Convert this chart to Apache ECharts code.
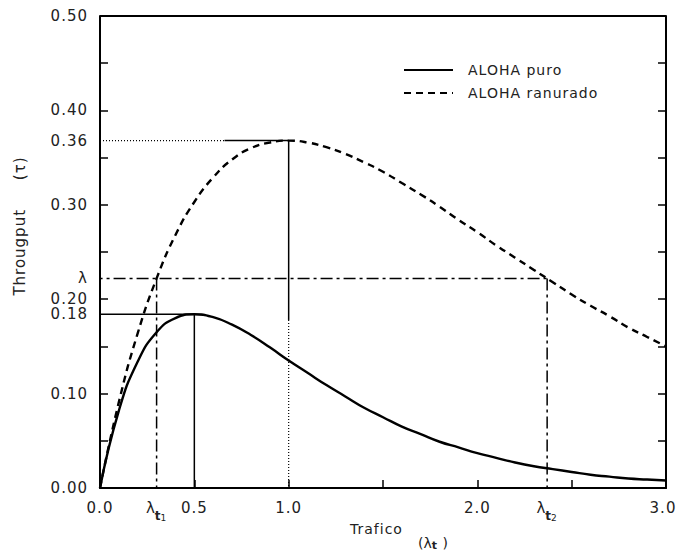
<!DOCTYPE html>
<html>
<head>
<meta charset="utf-8">
<script src="https://cdn.jsdelivr.net/npm/echarts@6/dist/echarts.min.js"></script>
<style>
  html, body { margin: 0; padding: 0; background: #fff; }
  #chart { width: 677px; height: 553px; }
  /* texto un poco espaciado como en la figura original */
  #chart text { letter-spacing: 1px; }
</style>
</head>
<body>
<div id="chart"></div>
<script>
// trafico (lambda_t) y throughput
const traffic = [0, 0.1, 0.2, 0.3, 0.4, 0.5, 0.6, 0.7, 0.8, 0.9, 1.0, 1.1, 1.2, 1.3, 1.4, 1.5,
  1.6, 1.7, 1.8, 1.9, 2.0, 2.1, 2.2, 2.3, 2.4, 2.5, 2.6, 2.7, 2.8, 2.9, 3.0];
const alohaPuro = [0, 0.082, 0.134, 0.165, 0.180, 0.184, 0.181, 0.173, 0.162, 0.149, 0.135, 0.122,
  0.109, 0.097, 0.085, 0.075, 0.065, 0.057, 0.049, 0.043, 0.037, 0.032, 0.027, 0.023, 0.020,
  0.017, 0.014, 0.012, 0.010, 0.009, 0.008];
const alohaRanurado = [0, 0.091, 0.164, 0.222, 0.268, 0.303, 0.329, 0.348, 0.360, 0.366, 0.368,
  0.366, 0.361, 0.354, 0.345, 0.335, 0.323, 0.311, 0.298, 0.284, 0.271, 0.257, 0.244, 0.231,
  0.218, 0.205, 0.193, 0.182, 0.170, 0.160, 0.150];

// maximos y nivel lambda
const peakPuro = [0.5, 0.184];
const peakRanurado = [1.0, 0.368];
const lambdaLevel = 0.222;
const lambdaT = [0.3, 2.37];
const dottedUntilX = 0.66;   // la horizontal de 0.36 es punteada hasta aqui
const solidDownToY = 0.178;  // la vertical en 1.0 es continua hasta aqui

// rango de los ejes y marcas
const xRange = [0, 3];
const yRange = [0, 0.5];
const xTickValues = [0, 0.5, 1, 1.5, 2, 2.5, 3];
const xLabelValues = [0, 0.3, 0.5, 1, 2, 2.37, 3];
const yTickValues = [0, 0.05, 0.1, 0.15, 0.2, 0.25, 0.3, 0.35, 0.4, 0.45, 0.5];
const yLabelValues = [0, 0.1, 0.184, 0.2, 0.222, 0.3, 0.368, 0.4, 0.5];

const chart = echarts.init(document.getElementById('chart'), null, { renderer: 'svg' });

const FONT = 'DejaVu Sans';
const INK = '#222';

function guide(data, type, width) {
  return {
    type: 'line',
    data: data,
    symbol: 'none',
    silent: true,
    clip: false,
    z: 1,
    lineStyle: { color: '#000', width: width || 1.5, type: type }
  };
}

const dashDot = [12, 4, 3, 4];

const option = {
  animation: false,
  backgroundColor: '#fff',
  grid: { left: 100, right: 11, top: 16, bottom: 65, outerBoundsMode: 'none' },
  legend: {
    data: ['ALOHA puro', 'ALOHA ranurado'],
    orient: 'vertical',
    left: 403,
    top: 63,
    padding: 0,
    itemWidth: 49,
    itemHeight: 14,
    itemGap: 9,
    itemStyle: { opacity: 0 },
    textStyle: { fontFamily: FONT, fontSize: 14, color: INK, padding: [0, 0, 0, 10] }
  },
  xAxis: {
    type: 'value',
    min: xRange[0],
    max: xRange[1],
    interval: 0.5,
    axisLine: { lineStyle: { color: '#000', width: 2 } },
    axisTick: { inside: true, length: 8, customValues: xTickValues, lineStyle: { color: '#000', width: 1.5 } },
    splitLine: { show: false },
    axisLabel: {
      customValues: xLabelValues,
      margin: 12,
      fontFamily: FONT,
      fontSize: 15,
      color: INK,
      formatter: function (v) {
        if (v === lambdaT[0]) return '{l|λ}{t|t}{n|1}';
        if (v === lambdaT[1]) return '{l|λ}{t|t}{n|2}';
        if (v === 3) return '{r|3.0}';
        return v.toFixed(1);
      },
      rich: {
        l: { fontFamily: FONT, fontSize: 15, color: INK, lineHeight: 22, verticalAlign: 'top' },
        t: { fontFamily: FONT, fontSize: 12, fontWeight: 'bold', color: INK, lineHeight: 22, verticalAlign: 'bottom' },
        n: { fontFamily: FONT, fontSize: 9, color: INK, lineHeight: 22, verticalAlign: 'bottom' },
        r: { fontFamily: FONT, fontSize: 15, color: INK, padding: [0, 6, 0, 0] }
      }
    }
  },
  yAxis: [{
    type: 'value',
    min: yRange[0],
    max: yRange[1],
    interval: 0.05,
    axisLine: { show: true, lineStyle: { color: '#000', width: 2 } },
    axisTick: { show: true, inside: true, length: 8, customValues: yTickValues, lineStyle: { color: '#000', width: 1.5 } },
    splitLine: { show: false },
    axisLabel: {
      customValues: yLabelValues,
      margin: 12,
      fontFamily: FONT,
      fontSize: 15,
      color: INK,
      formatter: function (v) {
        if (v === lambdaLevel) return 'λ';
        if (v === peakPuro[1]) return '0.18';
        if (v === peakRanurado[1]) return '0.36';
        return v.toFixed(2);
      }
    }
  }, {
    type: 'value',
    position: 'right',
    min: yRange[0],
    max: yRange[1],
    interval: 0.05,
    axisLine: { show: true, onZero: false, lineStyle: { color: '#000', width: 2 } },
    axisTick: { show: true, inside: true, length: 8, customValues: yTickValues, lineStyle: { color: '#000', width: 1.5 } },
    axisLabel: { show: false },
    splitLine: { show: false }
  }],
  graphic: [
    {
      type: 'text',
      x: 20,
      y: 226,
      rotation: Math.PI / 2,
      style: {
        text: 'Througput     (τ)',
        fontFamily: FONT,
        fontSize: 15,
        fill: INK,
        align: 'center',
        verticalAlign: 'middle'
      }
    },
    {
      type: 'text',
      x: 350,
      y: 522,
      style: { text: 'Trafico', fontFamily: FONT, fontSize: 14, fill: INK }
    },
    {
      type: 'text',
      x: 418,
      y: 535,
      style: {
        text: '{a|(}{l|λ}{t|t}{a| )}',
        rich: {
          a: { fontFamily: FONT, fontSize: 14, fill: INK, lineHeight: 16 },
          l: { fontFamily: FONT, fontSize: 14, fill: INK, lineHeight: 16 },
          t: { fontFamily: FONT, fontSize: 11, fontWeight: 'bold', fill: INK, lineHeight: 16, verticalAlign: 'bottom' }
        }
      }
    }
  ],
  series: [
    // borde superior del marco
    guide([[xRange[0], yRange[1]], [xRange[1], yRange[1]]], 'solid', 2),
    // guias del maximo de ALOHA puro
    guide([[0, peakPuro[1]], peakPuro], 'solid'),
    guide([[peakPuro[0], 0], peakPuro], 'solid'),
    // guias del maximo de ALOHA ranurado
    guide([[0, peakRanurado[1]], [dottedUntilX, peakRanurado[1]]], [1, 2], 1.2),
    guide([[dottedUntilX, peakRanurado[1]], peakRanurado], 'solid'),
    guide([peakRanurado, [peakRanurado[0], solidDownToY]], 'solid'),
    guide([[peakRanurado[0], solidDownToY], [peakRanurado[0], 0]], [1, 2], 1.2),
    // nivel lambda y sus dos traficos
    guide([[-0.05, lambdaLevel], [lambdaT[1], lambdaLevel]], dashDot),
    guide([[lambdaT[0], lambdaLevel], [lambdaT[0], 0]], dashDot),
    guide([[lambdaT[1], lambdaLevel], [lambdaT[1], 0]], dashDot),
    {
      name: 'ALOHA puro',
      type: 'line',
      data: traffic.map((x, i) => [x, alohaPuro[i]]),
      symbol: 'none',
      smooth: 0.5,
      z: 3,
      itemStyle: { color: '#000' },
      lineStyle: { color: '#000', width: 2.4, type: 'solid' }
    },
    {
      name: 'ALOHA ranurado',
      type: 'line',
      data: traffic.map((x, i) => [x, alohaRanurado[i]]),
      symbol: 'none',
      smooth: 0.5,
      z: 3,
      itemStyle: { color: '#000' },
      lineStyle: { color: '#000', width: 2.4, type: [7, 5] }
    }
  ]
};

chart.setOption(option);
</script>
</body>
</html>
